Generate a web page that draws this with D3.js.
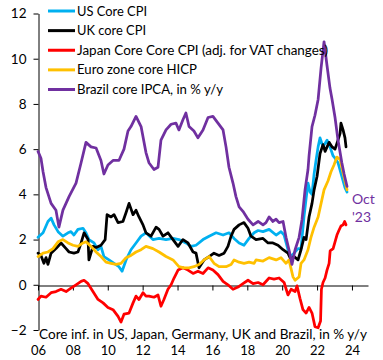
<!DOCTYPE html>
<html><head><meta charset="utf-8">
<script src="https://cdn.jsdelivr.net/npm/d3@7"></script>
<style>body{margin:0;background:#fff}svg{display:block}text{font-family:Lato,"Liberation Sans",sans-serif}</style>
</head><body><svg id="c" width="383" height="360"></svg>
<script>
const seriesNames = ["US Core CPI","UK core CPI","Japan Core Core CPI (adj. for VAT changes)","Euro zone core HICP","Brazil core IPCA, in % y/y"];
const seriesColors = ["#00B0F0","#000000","#FF0000","#FFC000","#7030A0"];
const usCore = [[2006.00,2.1],[2006.29,2.3],[2006.57,2.8],[2006.75,2.95],[2006.92,2.65],[2007.15,2.35],[2007.43,2.15],[2007.72,2.3],[2007.89,2.35],[2008.06,2.2],[2008.29,2.45],[2008.58,2.5],[2008.75,2.3],[2008.92,2.0],[2009.21,1.85],[2009.44,1.55],[2009.61,1.7],[2009.78,1.25],[2010.07,1.1],[2010.36,0.95],[2010.64,0.8],[2010.82,0.6],[2011.05,1.1],[2011.33,1.55],[2011.62,1.85],[2011.91,2.15],[2012.19,2.3],[2012.59,2.0],[2012.94,2.05],[2013.34,2.0],[2013.74,2.05],[2014.08,2.0],[2014.48,1.85],[2014.77,1.7],[2015.06,1.75],[2015.46,2.0],[2015.81,2.15],[2016.21,2.3],[2016.61,2.2],[2016.95,2.3],[2017.24,2.05],[2017.53,1.85],[2017.81,1.75],[2018.10,2.05],[2018.39,2.3],[2018.62,2.4],[2018.90,2.35],[2019.25,2.45],[2019.65,2.2],[2019.93,2.35],[2020.11,2.2],[2020.33,1.55],[2020.51,1.25],[2020.68,1.4],[2020.91,1.6],[2021.08,1.6],[2021.25,3.0],[2021.37,3.8],[2021.48,4.5],[2021.60,4.1],[2021.71,4.0],[2021.83,4.9],[2021.94,5.5],[2022.06,6.1],[2022.17,6.5],[2022.34,6.1],[2022.57,6.4],[2022.74,6.1],[2022.92,5.7],[2023.03,5.6],[2023.20,5.4],[2023.42,4.8],[2023.60,4.3],[2023.72,4.1]];
const ukCore = [[2006.00,1.4],[2006.17,1.3],[2006.34,0.95],[2006.46,1.2],[2006.57,0.9],[2006.75,1.4],[2007.03,1.6],[2007.32,1.85],[2007.61,1.6],[2007.78,1.45],[2008.06,1.4],[2008.29,1.45],[2008.47,1.85],[2008.64,2.3],[2008.87,2.0],[2008.92,1.1],[2009.15,1.7],[2009.33,1.65],[2009.61,1.75],[2009.85,2.0],[2009.96,3.1],[2010.19,3.0],[2010.36,3.1],[2010.59,2.75],[2010.87,2.8],[2011.05,3.2],[2011.22,3.6],[2011.45,3.1],[2011.62,3.3],[2011.79,3.0],[2012.02,2.65],[2012.19,2.3],[2012.48,2.15],[2012.77,2.55],[2012.94,2.45],[2013.17,2.15],[2013.45,2.3],[2013.74,2.0],[2014.03,1.7],[2014.31,2.0],[2014.60,1.85],[2014.89,1.45],[2015.06,1.4],[2015.23,0.75],[2015.52,1.1],[2015.81,1.25],[2016.09,1.4],[2016.38,1.3],[2016.67,1.4],[2016.89,1.7],[2017.07,2.15],[2017.24,2.45],[2017.53,2.65],[2017.81,2.75],[2018.04,2.5],[2018.21,2.15],[2018.50,2.0],[2018.90,2.05],[2019.19,1.85],[2019.47,1.85],[2019.76,1.75],[2020.05,1.55],[2020.33,1.4],[2020.51,1.1],[2020.68,1.25],[2020.91,1.1],[2021.08,1.55],[2021.25,2.1],[2021.37,2.0],[2021.54,3.0],[2021.71,3.6],[2021.83,4.2],[2022.00,4.8],[2022.17,5.8],[2022.34,6.2],[2022.46,5.9],[2022.69,6.3],[2022.86,6.1],[2023.03,6.0],[2023.20,6.4],[2023.32,6.7],[2023.37,7.15],[2023.49,6.85],[2023.60,6.5],[2023.66,6.1]];
const japanCore = [[2006.00,-0.65],[2006.17,-0.5],[2006.46,-0.55],[2006.75,-0.35],[2007.03,-0.3],[2007.32,-0.2],[2007.61,-0.3],[2007.89,-0.15],[2008.18,0.0],[2008.47,0.15],[2008.64,0.2],[2008.87,0.05],[2009.15,-0.3],[2009.44,-0.65],[2009.73,-0.8],[2010.01,-1.0],[2010.30,-1.1],[2010.59,-1.4],[2010.76,-1.65],[2010.93,-1.3],[2011.22,-1.25],[2011.45,-0.8],[2011.62,-0.5],[2011.79,-0.65],[2012.02,-0.35],[2012.19,-0.5],[2012.36,-0.5],[2012.65,-0.55],[2012.88,-0.45],[2013.05,-0.95],[2013.22,-0.65],[2013.45,-0.2],[2013.63,0.0],[2013.80,0.3],[2014.03,0.65],[2014.31,0.75],[2014.60,0.65],[2014.89,0.5],[2015.17,0.6],[2015.46,0.5],[2015.75,0.75],[2016.03,0.65],[2016.32,0.45],[2016.61,0.15],[2016.89,0.0],[2017.18,-0.2],[2017.47,-0.1],[2017.75,0.05],[2018.04,0.2],[2018.33,0.05],[2018.62,0.1],[2018.90,0.0],[2019.25,0.3],[2019.53,0.25],[2019.82,0.3],[2020.11,0.1],[2020.33,-0.45],[2020.51,-0.2],[2020.74,-0.3],[2020.85,-0.05],[2021.02,-0.6],[2021.19,-1.1],[2021.37,-1.25],[2021.54,-1.0],[2021.71,-1.25],[2021.88,-1.85],[2022.06,-1.9],[2022.20,-1.6],[2022.25,-0.2],[2022.34,0.1],[2022.46,0.3],[2022.57,0.65],[2022.69,0.95],[2022.75,1.5],[2022.92,1.6],[2023.03,1.9],[2023.14,2.2],[2023.25,2.4],[2023.37,2.6],[2023.49,2.65],[2023.58,2.8],[2023.66,2.65]];
const euroCore = [[2006.00,1.25],[2006.29,1.4],[2006.57,1.45],[2006.86,1.6],[2007.15,1.9],[2007.43,2.0],[2007.72,1.85],[2008.01,1.75],[2008.29,1.7],[2008.58,1.85],[2008.75,1.9],[2009.04,1.7],[2009.33,1.45],[2009.61,1.25],[2009.90,1.0],[2010.19,0.95],[2010.47,0.9],[2010.76,0.95],[2011.05,1.2],[2011.33,1.3],[2011.62,1.45],[2011.91,1.55],[2012.19,1.7],[2012.59,1.6],[2012.94,1.45],[2013.34,1.25],[2013.74,1.1],[2014.08,0.8],[2014.37,0.75],[2014.66,0.75],[2014.94,0.8],[2015.23,0.9],[2015.52,1.1],[2015.81,1.25],[2016.09,0.95],[2016.38,0.8],[2016.78,0.8],[2017.07,0.9],[2017.24,1.1],[2017.53,1.0],[2017.81,0.95],[2018.10,1.0],[2018.39,0.95],[2018.50,1.1],[2018.90,1.05],[2019.25,1.2],[2019.65,1.1],[2019.93,1.2],[2020.22,0.95],[2020.39,1.1],[2020.62,0.35],[2020.74,0.2],[2020.97,0.35],[2021.08,0.95],[2021.25,1.1],[2021.48,1.55],[2021.65,2.1],[2021.83,2.55],[2022.06,3.0],[2022.23,3.6],[2022.40,4.2],[2022.63,4.6],[2022.80,5.0],[2022.97,5.3],[2023.14,5.65],[2023.32,5.55],[2023.49,4.95],[2023.72,4.2]];
const brazilCore = [[2006.00,5.9],[2006.17,5.6],[2006.29,5.0],[2006.46,4.3],[2006.75,3.6],[2007.03,3.3],[2007.20,2.55],[2007.43,3.3],[2007.78,3.9],[2008.18,4.5],[2008.47,5.4],[2008.75,6.3],[2009.04,6.1],[2009.33,6.05],[2009.61,5.5],[2009.78,4.9],[2010.01,5.3],[2010.30,5.5],[2010.64,5.5],[2010.93,6.0],[2011.16,6.8],[2011.33,7.0],[2011.62,7.45],[2011.91,7.0],[2012.19,5.85],[2012.36,5.4],[2012.65,5.1],[2012.88,5.2],[2013.05,6.4],[2013.34,6.85],[2013.63,7.1],[2013.91,7.15],[2014.08,6.85],[2014.31,7.3],[2014.48,7.6],[2014.66,7.0],[2014.94,6.8],[2015.17,6.5],[2015.46,6.85],[2015.75,7.4],[2016.03,7.45],[2016.32,7.15],[2016.61,6.85],[2016.78,6.1],[2016.95,5.2],[2017.18,4.5],[2017.35,3.9],[2017.53,3.45],[2017.75,3.25],[2018.04,2.9],[2018.33,2.65],[2018.62,2.8],[2018.90,2.65],[2019.07,2.75],[2019.25,3.0],[2019.47,2.8],[2019.65,2.9],[2019.82,2.75],[2020.05,2.8],[2020.22,2.1],[2020.39,1.55],[2020.56,0.9],[2020.74,1.55],[2020.97,2.1],[2021.14,2.9],[2021.31,4.2],[2021.48,5.1],[2021.54,5.7],[2021.71,7.0],[2021.88,7.5],[2022.06,8.2],[2022.23,9.6],[2022.40,10.75],[2022.57,9.7],[2022.74,8.7],[2022.86,8.2],[2023.03,7.4],[2023.20,6.4],[2023.42,5.4],[2023.55,4.9],[2023.72,4.35]];
const yTicks = [-2,0,2,4,6,8,10,12];
const xTicks = [2006,2008,2010,2012,2014,2016,2018,2020,2022,2024];
const xTickLabels = ["06","08","10","12","14","16","18","20","22","24"];
const caption = "Core inf. in US, Japan, Germany, UK and Brazil, in % y/y";
const endLabel = ["Oct","'23"];

const allSeries = [usCore, ukCore, japanCore, euroCore, brazilCore];
const svg = d3.select("#c");
const x = d3.scaleLinear().domain([2006, 2024.92]).range([38, 368]);
const y = d3.scaleLinear().domain([-2, 12]).range([330, 13.5]);
const FONT = "Lato, 'Liberation Sans', sans-serif";

// y axis
const ya = svg.append("g").attr("transform","translate(38.5,0)")
  .call(d3.axisLeft(y).tickValues(yTicks).tickSize(5).tickSizeOuter(0).tickPadding(7).tickFormat(d3.format("d")));
ya.selectAll("text").attr("font-size",13.5).attr("fill","#000").style("font-family",FONT);
ya.selectAll("line,path").attr("stroke","#000");

// x axis at zero
const xa = svg.append("g").attr("transform",`translate(0,${Math.round(y(0))+0.5})`)
  .call(d3.axisBottom(x).tickValues(xTicks).tickSize(5).tickSizeOuter(0).tickFormat(""));
xa.selectAll("line,path").attr("stroke","#000");

// x labels at bottom
const xl = svg.append("g").attr("transform","translate(0,346)")
  .call(d3.axisBottom(x).tickValues(xTicks).tickSize(0).tickPadding(0).tickFormat((d,i)=>xTickLabels[i]));
xl.select(".domain").remove();
xl.selectAll("text").attr("font-size",13).attr("fill","#000").style("font-family",FONT);

// lines
const line = d3.line().x(d=>x(d[0])).y(d=>y(d[1]));
svg.append("g").selectAll("path").data(allSeries).join("path")
  .attr("d", line).attr("fill","none")
  .attr("stroke",(d,i)=>seriesColors[i]).attr("stroke-width",2.75)
  .attr("stroke-linejoin","round").attr("stroke-linecap","round");

// legend
const legendW = [70,69,251,120,146];
const ly = d3.scalePoint().domain(seriesNames).range([11, 89.5]);
const lg = svg.append("g").selectAll("g").data(seriesNames).join("g")
  .attr("transform", d=>`translate(0,${ly(d)})`);
lg.append("line").attr("x1",48).attr("x2",75).attr("stroke",(d,i)=>seriesColors[i]).attr("stroke-width",3);
lg.append("text").attr("x",77).attr("y",4.6).attr("font-size",13.5).text(d=>d)
  .attr("textLength",(d,i)=>legendW[i]).attr("lengthAdjust","spacingAndGlyphs");

// caption
svg.append("text").attr("x",39).attr("y",339).attr("font-size",13.5).attr("textLength",328)
  .attr("lengthAdjust","spacingAndGlyphs").text(caption);

// end label
svg.append("g").selectAll("text").data(endLabel).join("text")
  .attr("x",352).attr("y",(d,i)=>204+i*18).attr("font-size",14).attr("fill","#7030A0").text(d=>d);
</script></body></html>
